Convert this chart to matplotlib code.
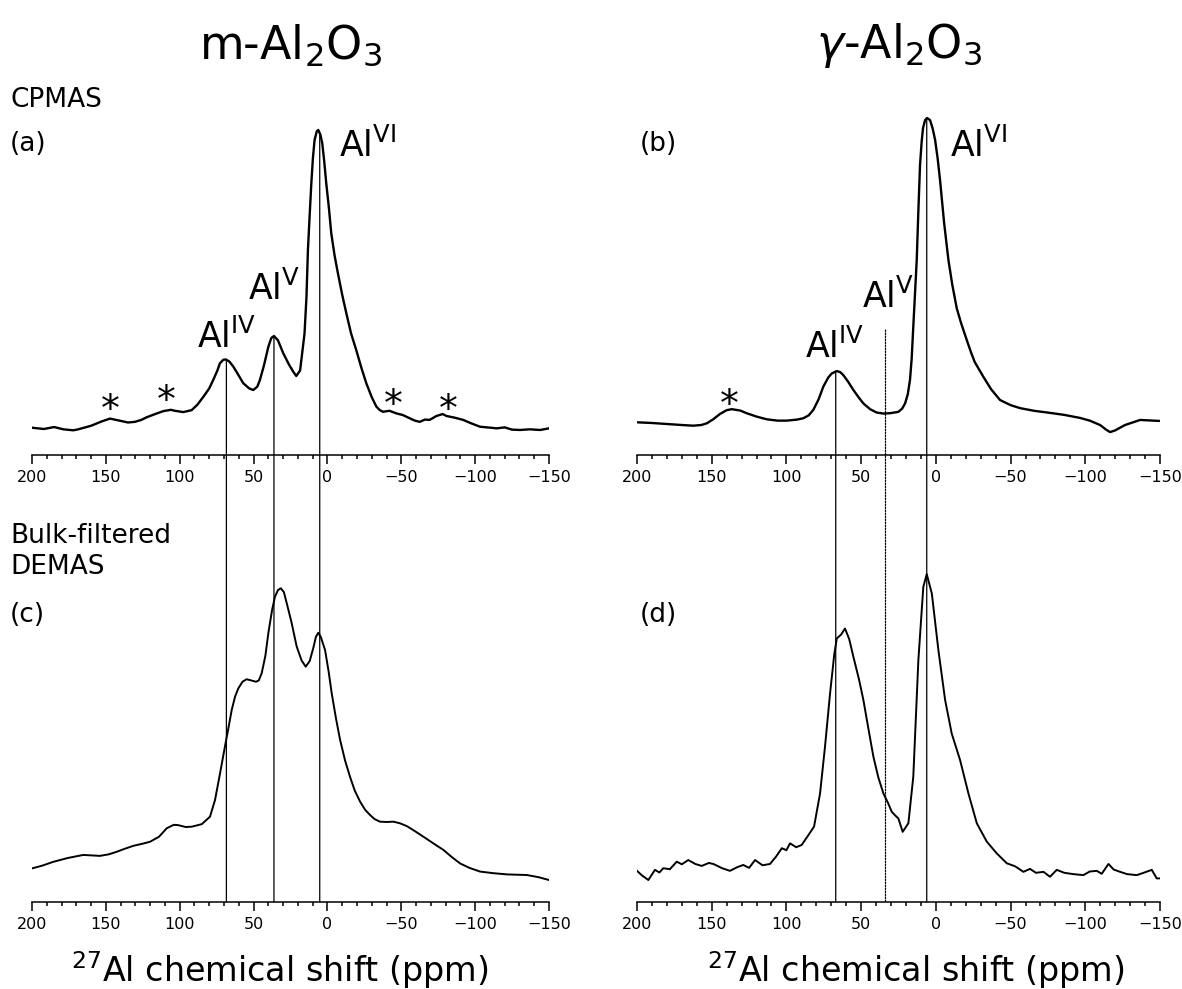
import matplotlib
matplotlib.use("Agg")
import matplotlib.pyplot as plt
from matplotlib.patches import ConnectionPatch

plt.rcParams['font.family'] = ['DejaVu Sans']
plt.rcParams['mathtext.fontset'] = 'dejavusans'

# ---------------- data (ppm, normalised intensity) ----------------
a_ppm = [200, 192, 185, 178.8, 172, 168.7, 160, 153, 147.2, 141, 135, 130.3, 126, 122.4, 116,
         111.1, 106, 103.2, 97.6, 91.9, 88, 84.0, 80, 77.3, 74.5, 72.8, 70.5, 68.9, 66.5, 63.7,
         60, 57.0, 53, 50.2, 47.5, 45.7, 43, 40.0, 38, 36.2, 33.5, 29.9, 26, 23.1, 21.1, 18.5,
         15.5, 14.2, 13.2, 12.0, 10.9, 9.8, 8.7, 7.2, 6.2, 4.8, 3.5, 2.2, 0.8, -1.0, -2.6, -4.8,
         -7.1, -10.0, -12.8, -16.0, -19.5, -23.0, -26.3, -30.0, -33.1, -35.5,
         -37.6, -42, -46.7, -51, -55.7, -59, -62.5, -66, -69.2, -73.8, -78, -80.6, -86, -91.9,
         -97, -103.3, -108, -114.6, -120, -125, -130.4, -137, -144, -150]
a_int = [8.4, 8.0, 8.6, 7.9, 7.6, 7.9, 9.0, 10.3, 11.2, 10.6, 10.0, 10.2, 10.8, 11.6, 12.7,
         13.5, 13.9, 13.6, 13.2, 13.8, 15.5, 17.9, 20.5, 23.1, 26.0, 28.2, 29.3, 29.4, 28.8, 27.2,
         24.4, 22.1, 20.5, 20.0, 21.0, 23.1, 27.5, 33.3, 36.0, 36.6, 35.3, 31.3, 27.8, 25.6, 24.3, 26.0,
         37.4, 48.5, 63.1, 74.0, 83.6, 91.5, 96.9, 99.6, 100, 98.6, 95.9, 90.5, 83.6, 76.0, 68.2, 61.5,
         55.9, 49.3, 43.6, 37.4, 32.3, 26.8, 22.1, 17.8, 14.9, 13.8,
         13.3, 13.6, 12.8, 12.3, 11.3, 10.6, 10.2, 10.9, 10.8, 12.0, 12.6, 12.0, 11.5, 10.8,
         9.8, 8.7, 8.5, 8.2, 8.5, 7.8, 7.7, 7.9, 7.7, 8.2]

b_ppm = [200, 190, 180.1, 170, 162.3, 157, 153.3, 149, 144.4, 140, 136.6, 131, 126.6, 120,
         113.2, 106, 99.8, 93, 88.7, 85, 82, 78.5, 75.3, 72, 69.7, 66.3, 64, 61.9, 58.5, 55.2,
         51.5, 48.5, 44, 39.6, 35, 30.7, 25.1, 22.5, 20.6, 18.8, 17.3, 16.2, 15.1, 14.0, 12.8,
         11.7, 10.6, 9.5, 8.6, 7.2, 5.9, 3.9, 2.2, 0.5, -1.2, -2.8, -5.5, -8.4, -11.0, -14,
         -17.0, -20.7, -23.5, -26, -31.8, -37, -43, -50, -56.4, -66, -76.4,
         -86, -96.5, -103, -109.9, -114, -116.6, -120, -126.6, -136.7, -150]
b_int = [9.7, 9.5, 9.2, 8.9, 8.7, 8.9, 9.4, 10.6, 12.2, 13.3, 13.6, 13.2, 12.4, 11.4,
         10.6, 10.2, 10.2, 10.5, 10.9, 11.8, 13.4, 16.5, 20.3, 23.0, 24.2, 24.9, 24.6, 23.7, 21.6, 19.3,
         17.0, 15.3, 13.6, 12.6, 12.3, 12.4, 12.8, 13.8, 15.3, 18.0, 22.3, 28.5, 38.1, 47.5, 57.9,
         72.5, 86.0, 93.0, 97.0, 99.4, 100, 99.4, 97.0, 93.5, 88.0, 81.6, 69.0, 57.9, 50.5, 43.5,
         39.0, 34.1, 30.5, 27.6, 23.2, 19.5, 16.3, 14.8, 13.9, 13.1, 12.5,
         11.9, 11.0, 10.2, 8.9, 7.5, 6.8, 7.3, 8.9, 10.4, 10.1]

c_ppm = [200, 193, 185.6, 176, 165.3, 154, 148, 142.7, 137, 131.4, 125, 120.1, 114, 108.8,
         104, 101, 96, 91.9, 85.1, 79.5, 76.1, 72.7, 69.4, 67, 64.8, 62.5, 60.3, 57.5, 54.7,
         51.5, 48.4, 46.5, 44.5, 42, 40.0, 37.5, 35.5, 33.5, 31.6, 29.5, 27.6, 24.5, 20.8,
         17.5, 14.7, 12, 9.6, 7.8, 6.2, 4.5, 1.6, -0.8, -2.9, -5.8, -8.6, -12.0, -15.3, -18.5,
         -22.1, -25.5, -28.9, -32, -35.6,
         -40, -44.7, -49, -53.7, -58.5, -65, -72, -78.5, -84, -89.8, -96, -103.3, -112, -121.4,
         -128, -135, -143, -150]
c_int = [10.7, 11.6, 12.8, 14.0, 15.0, 14.7, 15.2, 16.0, 17.0, 17.9, 18.6, 19.2, 20.8, 23.5,
         24.6, 24.5, 23.9, 24.0, 24.8, 27.2, 32.5, 41.0, 49.5, 55.5, 61.2, 65.5, 68.1, 70.2, 71.0,
         70.6, 70.2, 70.6, 72.9, 78.5, 85.7, 93.0, 97.3, 99.4, 100, 98.8, 95.3, 89.5, 81.4,
         77.0, 75.0, 76.8, 80.9, 84.5, 85.8, 84.5, 80.3, 73.5, 66.5, 58.5, 51.6, 45.0, 39.9, 35.5,
         32.0, 29.4, 27.7, 26.4, 25.6,
         25.5, 25.6, 25.1, 24.2, 22.8, 20.8, 18.6, 16.6, 14.4, 12.3, 10.9, 9.7, 9.2, 8.8,
         8.7, 8.6, 7.9, 7.0]

d_ppm = [200, 196.9, 192.4, 188, 185, 182.4, 178, 173.4, 170, 165.7, 161, 156.7, 152,
         148.9, 143, 137.8, 133, 128.9, 125, 121, 116, 111, 107, 103.1, 100, 97.6, 93.5,
         89.8, 85.3, 81.5, 77.5, 74.2, 70.8, 68, 66.3, 63.5, 60.8, 58, 55.2, 51.5, 48.5, 45,
         41.8, 38.5, 35.1, 32, 29.5, 27, 25.1, 22.2, 18.4, 15.1, 11.7, 8.4, 6.1, 2.7, -1.7,
         -6.2, -10.6, -16.2, -21.8, -27.4, -34.1, -40.8, -47.5, -53, -58.6, -63, -67, -72,
         -76.4, -80.9, -86, -92, -98.7, -103, -107.7, -111, -115.5, -119, -123.3, -128,
         -134.5, -139, -144.5, -147.8, -150]
d_int = [9.5, 8.2, 6.7, 9.8, 9.0, 10.3, 10.0, 12.3, 11.5, 12.8, 11.6, 11.0, 11.9,
         11.6, 10.3, 9.5, 10.6, 11.3, 10.4, 12.8, 11.2, 11.6, 13.8, 16.4, 15.8, 17.9, 16.7,
         17.4, 20.4, 23.0, 33.1, 47.3, 63.6, 75.5, 80.4, 81.5, 83.4, 80.2, 74.8, 68.0, 61.6, 52.5,
         44.3, 38.0, 33.1, 30.2, 27.5, 26.3, 25.5, 21.4, 24.0, 38.2, 73.8, 96.1, 100, 94.1, 76.8,
         61.6, 51.4, 43.3, 33.1, 24.0, 18.4, 14.8, 11.8, 10.9, 9.2, 10.1, 8.9, 9.2,
         7.7, 9.8, 8.9, 8.5, 8.2, 9.3, 9.5, 8.6, 11.6, 9.9, 9.2, 8.5,
         8.2, 8.9, 9.8, 7.2, 7.2]

# reference lines (ppm) and where they start in the upper panels
left_lines = [68.4, 36.2, 5.2]
left_line_top = [29.4, 36.6, 99.0]
right_lines = [67.0, 33.7, 6.1]
right_line_top = [24.9, 37.1, 99.5]
right_line_style = ['-', (0, (1.2, 1.2)), '-']

# ---------------- figure ----------------
W, H = 1182, 989
fig = plt.figure(figsize=(W / 100, H / 100), dpi=100)

def fx(px):
    return px / W

def fy(py):
    return 1 - py / H

axA = fig.add_axes([fx(32), fy(455), fx(517), 340 / H])
axB = fig.add_axes([fx(637), fy(455), fx(523), 340 / H])
axC = fig.add_axes([fx(32), fy(902), fx(517), 342 / H])
axD = fig.add_axes([fx(637), fy(902), fx(523), 342 / H])

for ax in (axA, axB, axC, axD):
    for s in ('left', 'right', 'top'):
        ax.spines[s].set_visible(False)
    ax.spines['bottom'].set_linewidth(1.1)
    ax.set_xlim(200, -150)
    ax.set_yticks([])
    ax.set_xticks([200, 150, 100, 50, 0, -50, -100, -150])
    ax.set_xticks(range(-150, 201, 10), minor=True)
    ax.tick_params(axis='x', which='major', length=6.5, width=1.1, pad=4, labelsize=11.5,
                   direction='out')
    ax.tick_params(axis='x', which='minor', length=3, width=1.1, direction='out')
    ax.patch.set_alpha(0)

axA.plot(a_ppm, a_int, color='black', lw=1.7)
axB.plot(b_ppm, b_int, color='black', lw=1.7)
axC.plot(c_ppm, c_int, color='black', lw=1.4)
axD.plot(d_ppm, d_int, color='black', lw=1.4)

axA.set_ylim(0, 104.6)
axB.set_ylim(0, 100.9)
axC.set_ylim(0, 109.0)
axD.set_ylim(0, 104.3)

for x, yt in zip(left_lines, left_line_top):
    fig.add_artist(ConnectionPatch(xyA=(x, yt), coordsA=axA.transData,
                                   xyB=(x, 0), coordsB=axC.transData,
                                   color='black', lw=0.9))
for x, yt, ls in zip(right_lines, right_line_top, right_line_style):
    fig.add_artist(ConnectionPatch(xyA=(x, yt), coordsA=axB.transData,
                                   xyB=(x, 0), coordsB=axD.transData,
                                   color='black', lw=0.9, linestyle=ls))

# peak labels
lab = 25
axA.text(88.3, 32.9, r'$\mathregular{Al^{IV}}$', fontsize=lab, ha='left', va='baseline')
axA.text(53.8, 47.7, r'$\mathregular{Al^{V}}$', fontsize=lab, ha='left', va='baseline')
axA.text(-8.1, 91.7, r'$\mathregular{Al^{VI}}$', fontsize=lab, ha='left', va='baseline')
axB.text(87.6, 28.8, r'$\mathregular{Al^{IV}}$', fontsize=lab, ha='left', va='baseline')
axB.text(49.6, 43.5, r'$\mathregular{Al^{V}}$', fontsize=lab, ha='left', va='baseline')
axB.text(-9.5, 88.4, r'$\mathregular{Al^{VI}}$', fontsize=lab, ha='left', va='baseline')

# spinning side bands
for ax, xs, ys in ((axA, [146.8, 109.4, -44.9, -81.7], [17.2, 19.8, 18.7, 17.1]),
                   (axB, [138.4], [18.0])):
    for x, y in zip(xs, ys):
        ax.annotate('*', xy=(x, y), xytext=(0, -15.5), textcoords='offset points',
                    ha='center', va='baseline', fontsize=27)

# titles and panel texts
fig.text(fx(291), fy(58), r'm-Al$_2$O$_3$', fontsize=33, ha='center', va='baseline')
fig.text(fx(899), fy(58), r'$\gamma$-Al$_2$O$_3$', fontsize=33, ha='center', va='baseline')
fs = 19
fig.text(fx(10), fy(107), 'CPMAS', fontsize=fs, va='baseline')
fig.text(fx(10), fy(151), '(a)', fontsize=fs, va='baseline')
fig.text(fx(640), fy(151), '(b)', fontsize=fs, va='baseline')
fig.text(fx(10), fy(543), 'Bulk-filtered', fontsize=fs, va='baseline')
fig.text(fx(10), fy(574), 'DEMAS', fontsize=fs, va='baseline')
fig.text(fx(10), fy(622), '(c)', fontsize=fs, va='baseline')
fig.text(fx(640), fy(622), '(d)', fontsize=fs, va='baseline')

xl = r'$^{27}$Al chemical shift (ppm)'
fig.text(fx(280), fy(982), xl, fontsize=24, ha='center', va='baseline')
fig.text(fx(916), fy(982), xl, fontsize=24, ha='center', va='baseline')

fig.savefig('out.png', dpi=100)
